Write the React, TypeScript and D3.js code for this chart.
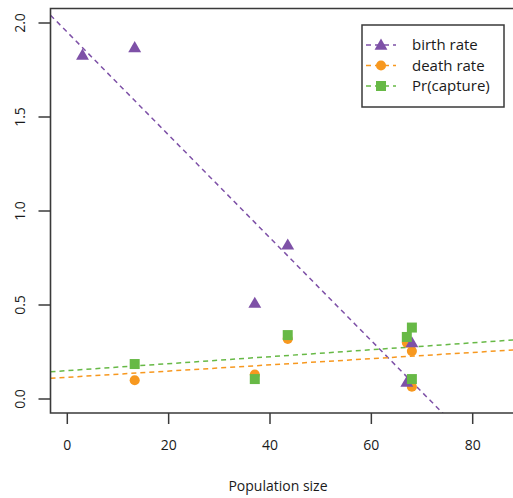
import React, { useEffect, useRef } from 'react';
import * as d3 from 'd3';

// points per series (population size, rate)
const birthX = [3, 13.3, 37, 43.5, 67, 68];
const birthRate = [1.83, 1.87, 0.51, 0.82, 0.09, 0.3];
const deathX = [13.3, 37, 43.5, 67, 68, 68];
const deathRate = [0.1, 0.13, 0.32, 0.3, 0.255, 0.065];
const captureX = [13.3, 37, 43.5, 67, 68, 68];
const captureRate = [0.186, 0.106, 0.34, 0.33, 0.38, 0.106];

// fitted lines (intercept, slope)
const seriesNames = ['birth rate', 'death rate', 'Pr(capture)'];
const fitIntercept = [1.951, 0.1155, 0.151];
const fitSlope = [-0.02735, 0.00165, 0.00185];

const xTicks = [0, 20, 40, 60, 80];
const yTicks = [0, 0.5, 1.0, 1.5, 2.0];

const colors = ['#7e51a7', '#f7981f', '#67b946'];
const font = "'Open Sans', 'Liberation Sans', sans-serif";

const App = () => {
    const ref = useRef<SVGSVGElement>(null);

    useEffect(() => {
        const svg = d3.select(ref.current);
        svg.selectAll('*').remove();

        const left = 50.5, right = 525, top = 8.5, bottom = 413;
        const x = d3.scaleLinear().domain([0, 80]).range([67.3, 472.7]);
        const y = d3.scaleLinear().domain([0, 2]).range([399, 23]);

        svg.append('defs').append('clipPath').attr('id', 'plotclip')
            .append('rect')
            .attr('x', left).attr('y', top)
            .attr('width', right - left).attr('height', bottom - top);

        // fitted lines
        const xLo = x.invert(left), xHi = x.invert(right);
        const lines = svg.append('g').attr('clip-path', 'url(#plotclip)');
        seriesNames.forEach((name, i) => {
            const f = (v: number) => fitIntercept[i] + fitSlope[i] * v;
            lines.append('line')
                .attr('x1', x(xLo)).attr('y1', y(f(xLo)))
                .attr('x2', x(xHi)).attr('y2', y(f(xHi)))
                .attr('stroke', colors[i])
                .attr('stroke-width', 1.5)
                .attr('stroke-dasharray', '5,4');
        });

        const tri = d3.symbol(d3.symbolTriangle).size(72)();
        const circ = d3.symbol(d3.symbolCircle).size(80)();
        const sq = d3.symbol(d3.symbolSquare).size(100)();

        const pts = svg.append('g');
        deathX.forEach((v, i) => {
            pts.append('path').attr('d', circ)
                .attr('transform', `translate(${x(v)},${y(deathRate[i])})`)
                .attr('fill', colors[1]);
        });
        birthX.forEach((v, i) => {
            pts.append('path').attr('d', tri)
                .attr('transform', `translate(${x(v)},${y(birthRate[i]) + 1})`)
                .attr('fill', colors[0]);
        });
        captureX.forEach((v, i) => {
            pts.append('path').attr('d', sq)
                .attr('transform', `translate(${x(v)},${y(captureRate[i])})`)
                .attr('fill', colors[2]);
        });

        // plot frame
        svg.append('path')
            .attr('d', `M${right},${top}H${left}V${bottom}H${right}`)
            .attr('fill', 'none').attr('stroke', '#3a3a3a').attr('stroke-width', 1.6);

        // x axis
        const xa = svg.append('g');
        xTicks.forEach(t => {
            xa.append('line').attr('x1', x(t)).attr('x2', x(t))
                .attr('y1', bottom).attr('y2', bottom + 11)
                .attr('stroke', '#3a3a3a').attr('stroke-width', 1.5);
            xa.append('text').attr('x', x(t)).attr('y', 450)
                .attr('text-anchor', 'middle').attr('font-family', font)
                .attr('font-size', 14).attr('fill', '#1a1a1a').text(t);
        });
        svg.append('text').attr('x', 278).attr('y', 491)
            .attr('text-anchor', 'middle').attr('font-family', font)
            .attr('font-size', 14).attr('fill', '#1a1a1a').text('Population size');

        // y axis
        const ya = svg.append('g');
        yTicks.forEach(t => {
            ya.append('line').attr('x1', left - 12).attr('x2', left)
                .attr('y1', y(t)).attr('y2', y(t))
                .attr('stroke', '#3a3a3a').attr('stroke-width', 1.5);
            ya.append('text')
                .attr('transform', `translate(25,${y(t)}) rotate(-90)`)
                .attr('text-anchor', 'middle').attr('font-family', font)
                .attr('font-size', 14).attr('fill', '#1a1a1a').text(t.toFixed(1));
        });

        // legend
        const lg = svg.append('g');
        lg.append('rect').attr('x', 362).attr('y', 25).attr('width', 142).attr('height', 82)
            .attr('fill', 'white').attr('stroke', '#3a3a3a').attr('stroke-width', 1.5);
        const marks = [tri, circ, sq];
        seriesNames.forEach((name, i) => {
            const ly = 45 + i * 20.5;
            lg.append('line').attr('x1', 366).attr('x2', 396).attr('y1', ly).attr('y2', ly)
                .attr('stroke', colors[i]).attr('stroke-width', 1.5).attr('stroke-dasharray', '5,4');
            lg.append('path').attr('d', marks[i])
                .attr('transform', `translate(381,${ly + (i === 0 ? 1 : 0)})`)
                .attr('fill', colors[i]);
            lg.append('text').attr('x', 412).attr('y', ly + 5)
                .attr('font-family', font).attr('font-size', 15).attr('fill', '#1a1a1a').text(name);
        });
    }, []);

    return (
        <svg ref={ref} width={513} height={498}
             style={{position: 'absolute', left: 0, top: 0, background: 'white'}}/>
    );
};

export default App;
